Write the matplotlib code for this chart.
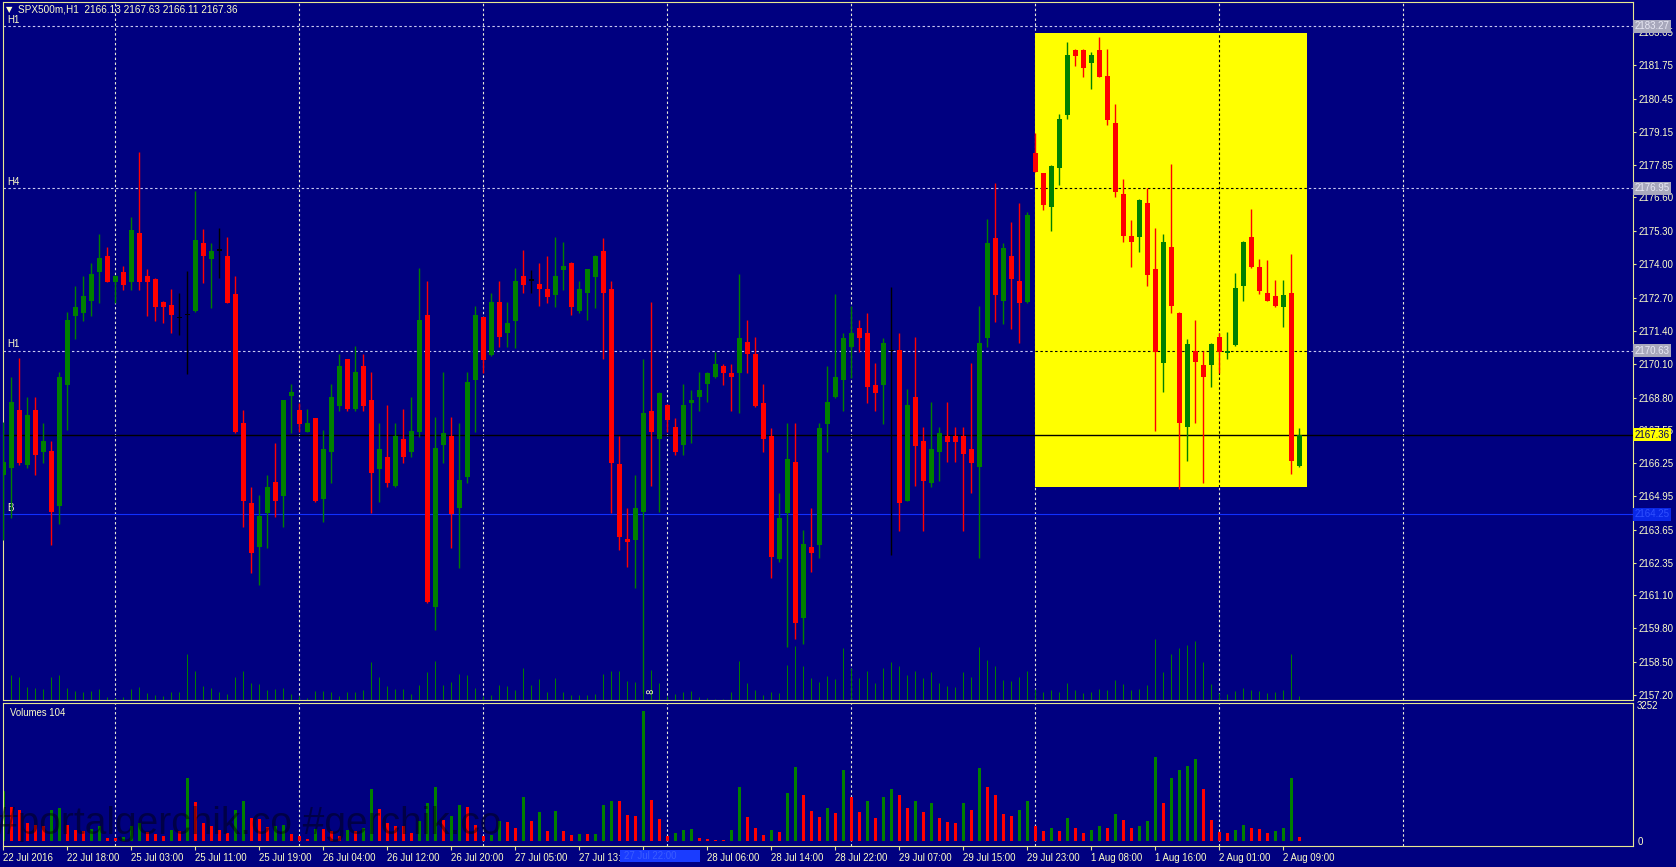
import numpy as np
import matplotlib
matplotlib.use('Agg')
import matplotlib.pyplot as plt
from matplotlib.patches import Rectangle
from matplotlib import transforms

# ---- data: hourly SPX500m candles, 22 Jul 2016 .. 2 Aug 2016 ----
opens = [2165.78, 2166.04, 2168.32, 2166.17, 2168.32, 2166.69, 2166.73, 2164.57, 2169.29, 2171.98,
         2172.11, 2172.58, 2173.71, 2174.32, 2173.32, 2173.71, 2173.32, 2175.20, 2173.54, 2173.41,
         2172.53, 2172.40, 2171.89, 2172.02, 2172.19, 2174.84, 2174.20, 2174.53, 2174.32, 2172.84,
         2167.82, 2164.68, 2162.96, 2164.29, 2165.52, 2164.96, 2168.86, 2168.32, 2167.47, 2167.99,
         2164.86, 2166.69, 2168.47, 2170.29, 2168.34, 2170.03, 2168.71, 2166.00, 2166.47, 2165.35,
         2167.17, 2166.69, 2167.47, 2172.02, 2160.65, 2166.95, 2167.30, 2164.48, 2165.69, 2169.49,
         2171.93, 2170.46, 2172.54, 2171.31, 2171.80, 2173.54, 2173.36, 2173.23, 2173.02, 2172.80,
         2173.77, 2174.06, 2172.19, 2172.89, 2173.51, 2174.53, 2173.02, 2166.21, 2163.27, 2163.25,
         2164.35, 2168.29, 2167.17, 2168.51, 2167.67, 2166.95, 2168.60, 2168.81, 2169.33, 2169.59,
         2170.03, 2169.77, 2169.77, 2170.98, 2170.50, 2168.60, 2167.30, 2162.49, 2164.29, 2166.30,
         2160.20, 2162.99, 2163.05, 2167.77, 2168.81, 2169.49, 2170.79, 2171.50, 2171.33, 2169.29,
         2169.29, 2170.60, 2170.66, 2164.78, 2168.84, 2167.12, 2165.48, 2166.69, 2167.30, 2167.30,
         2167.30, 2166.78, 2166.08, 2171.11, 2175.01, 2172.58, 2174.32, 2173.36, 2172.54, 2178.32,
         2177.54, 2176.22, 2177.74, 2179.82, 2182.35, 2182.35, 2181.83, 2182.35, 2181.34, 2179.52,
         2176.74, 2175.10, 2175.07, 2176.40, 2173.80, 2170.14, 2174.66, 2172.11, 2167.64, 2170.63,
         2170.07, 2170.07, 2171.15, 2170.55, 2170.85, 2173.13, 2175.07, 2173.88, 2172.87, 2172.76,
         2172.32, 2172.87, 2166.13]
highs = [2167.86, 2169.62, 2170.33, 2168.84, 2168.84, 2167.82, 2167.12, 2169.81, 2172.15, 2173.13,
         2173.54, 2174.06, 2175.17, 2174.65, 2173.58, 2173.93, 2175.85, 2178.39, 2173.80, 2173.45,
         2172.57, 2173.02, 2172.87, 2173.75, 2176.87, 2175.36, 2174.84, 2175.40, 2175.05, 2173.54,
         2168.32, 2165.33, 2165.00, 2165.78, 2167.02, 2168.72, 2169.33, 2168.58, 2168.34, 2168.02,
         2167.54, 2169.33, 2170.50, 2170.32, 2170.81, 2170.50, 2169.81, 2167.82, 2168.51, 2167.82,
         2168.34, 2168.84, 2173.84, 2173.36, 2168.03, 2169.81, 2168.03, 2167.82, 2169.81, 2172.35,
         2171.96, 2172.86, 2173.36, 2172.54, 2173.84, 2174.55, 2173.77, 2174.06, 2174.32, 2175.05,
         2174.88, 2174.09, 2173.36, 2173.83, 2174.35, 2175.01, 2173.36, 2167.30, 2164.48, 2165.78,
         2170.29, 2172.54, 2169.02, 2168.54, 2167.99, 2169.33, 2169.10, 2169.81, 2169.80, 2170.59,
         2170.11, 2170.11, 2173.62, 2171.83, 2171.15, 2169.33, 2167.60, 2165.07, 2167.82, 2167.80,
         2163.64, 2164.48, 2167.80, 2170.03, 2172.84, 2171.33, 2172.35, 2171.83, 2172.11, 2170.14,
         2171.11, 2173.12, 2171.33, 2169.12, 2171.15, 2167.64, 2168.64, 2167.64, 2168.64, 2167.64,
         2167.64, 2170.14, 2172.35, 2175.75, 2177.15, 2174.82, 2175.66, 2176.37, 2176.05, 2179.10,
         2177.57, 2177.86, 2179.86, 2182.68, 2182.38, 2182.38, 2182.29, 2182.87, 2182.38, 2180.25,
         2177.31, 2175.72, 2176.53, 2176.96, 2175.40, 2175.18, 2177.91, 2172.14, 2171.07, 2171.83,
         2170.63, 2170.92, 2171.31, 2171.37, 2173.65, 2174.91, 2176.14, 2174.19, 2174.16, 2173.39,
         2173.39, 2174.40, 2167.63]
lows = [2163.25, 2164.09, 2166.17, 2166.04, 2165.78, 2166.26, 2163.05, 2163.87, 2167.54, 2171.07,
        2171.80, 2171.98, 2172.50, 2173.30, 2172.48, 2172.99, 2172.99, 2172.99, 2171.98, 2171.80,
        2171.70, 2171.31, 2171.24, 2169.72, 2172.15, 2173.28, 2172.28, 2173.45, 2172.47, 2167.41,
        2163.77, 2161.95, 2161.50, 2162.92, 2164.13, 2163.77, 2167.41, 2167.47, 2167.44, 2164.74,
        2163.96, 2165.46, 2168.29, 2168.29, 2168.29, 2168.29, 2164.29, 2164.74, 2165.30, 2165.30,
        2166.26, 2166.47, 2167.28, 2160.80, 2159.74, 2166.24, 2162.92, 2162.14, 2165.46, 2167.47,
        2169.75, 2170.43, 2170.79, 2170.79, 2170.72, 2172.86, 2172.86, 2172.37, 2172.50, 2172.32,
        2172.99, 2172.02, 2172.09, 2171.83, 2172.28, 2170.29, 2164.29, 2162.86, 2162.18, 2161.37,
        2157.30, 2165.35, 2164.35, 2167.47, 2166.56, 2166.56, 2167.04, 2168.29, 2168.64, 2169.56,
        2169.29, 2168.29, 2168.19, 2169.77, 2168.44, 2166.69, 2161.75, 2162.40, 2159.09, 2159.40,
        2159.20, 2162.00, 2162.53, 2166.69, 2168.78, 2168.29, 2169.55, 2170.59, 2168.60, 2168.29,
        2167.77, 2162.67, 2163.58, 2164.75, 2165.35, 2163.58, 2165.33, 2165.56, 2166.30, 2166.30,
        2163.58, 2165.07, 2162.53, 2170.76, 2171.76, 2171.67, 2171.46, 2170.94, 2172.50, 2177.58,
        2176.11, 2175.31, 2177.09, 2179.65, 2181.73, 2181.31, 2180.82, 2181.28, 2179.43, 2176.61,
        2174.88, 2173.88, 2174.49, 2173.13, 2167.51, 2169.03, 2172.11, 2165.22, 2166.34, 2167.82,
        2165.48, 2169.23, 2169.77, 2170.29, 2170.82, 2172.58, 2173.85, 2172.84, 2172.55, 2172.32,
        2171.54, 2165.82, 2166.11]
closes = [2166.30, 2168.64, 2166.24, 2168.12, 2166.56, 2167.12, 2164.35, 2169.62, 2171.83, 2172.32,
          2172.74, 2173.62, 2174.23, 2173.32, 2173.54, 2173.19, 2175.34, 2173.32, 2173.32, 2172.32,
          2172.32, 2172.01, 2171.89, 2172.02, 2174.94, 2174.30, 2174.52, 2174.53, 2172.50, 2167.47,
          2164.78, 2162.76, 2164.18, 2165.33, 2164.78, 2168.70, 2169.02, 2167.77, 2167.82, 2164.78,
          2166.78, 2168.81, 2170.03, 2168.34, 2169.80, 2168.47, 2165.87, 2166.78, 2165.48, 2167.30,
          2166.47, 2167.51, 2171.83, 2160.84, 2166.82, 2167.41, 2164.26, 2165.59, 2169.42, 2172.02,
          2170.27, 2172.54, 2171.18, 2171.70, 2173.36, 2173.19, 2173.36, 2173.02, 2172.71, 2173.54,
          2173.93, 2172.32, 2173.02, 2173.80, 2174.32, 2172.89, 2166.26, 2163.38, 2163.18, 2164.48,
          2168.19, 2167.47, 2168.99, 2167.93, 2166.69, 2168.51, 2168.71, 2169.10, 2169.77, 2170.11,
          2169.77, 2169.59, 2171.11, 2170.50, 2168.47, 2167.17, 2162.57, 2164.09, 2166.39, 2160.00,
          2163.09, 2162.76, 2167.60, 2168.64, 2169.59, 2171.11, 2171.33, 2171.11, 2169.20, 2168.99,
          2170.92, 2170.60, 2164.68, 2168.51, 2166.91, 2165.56, 2166.78, 2167.41, 2167.08, 2167.08,
          2166.60, 2166.26, 2170.94, 2174.82, 2172.80, 2174.62, 2173.41, 2172.50, 2175.92, 2177.61,
          2176.31, 2177.83, 2179.65, 2182.16, 2182.12, 2181.64, 2182.16, 2181.31, 2179.62, 2176.83,
          2175.10, 2174.88, 2176.50, 2173.58, 2170.59, 2174.88, 2172.35, 2167.82, 2170.89, 2170.20,
          2169.62, 2170.89, 2170.59, 2170.63, 2173.06, 2174.88, 2173.88, 2172.97, 2172.58, 2172.35,
          2172.80, 2166.34, 2167.36]
volumes = [1192, 815, 740, 423, 385, 362, 740, 800, 385, 272,
           234, 280, 362, 83, 60, 98, 347, 423, 211, 166,
           121, 257, 234, 1501, 935, 438, 370, 257, 181, 740,
           950, 558, 520, 332, 347, 392, 174, 121, 45, 287,
           280, 241, 121, 257, 250, 309, 1252, 762, 438, 362,
           347, 196, 483, 913, 1290, 498, 596, 853, 822, 377,
           121, 135, 483, 460, 302, 1041, 483, 687, 234, 724,
           236, 150, 165, 160, 170, 849, 966, 960, 613, 590,
           3111, 990, 534, 120, 180, 259, 275, 79, 40, 30,
           25, 251, 1296, 563, 322, 149, 251, 220, 1155, 1768,
           1108, 715, 573, 785, 667, 1700, 1050, 700, 950, 550,
           1050, 1250, 1100, 800, 950, 700, 900, 550, 450, 420,
           900, 750, 1750, 1300, 1100, 650, 600, 750, 950, 350,
           250, 300, 250, 550, 300, 200, 260, 350, 320, 650,
           500, 300, 360, 480, 2000, 900, 1500, 1700, 1800, 1950,
           1250, 500, 220, 180, 270, 380, 320, 280, 200, 250,
           300, 1500, 104]

time_labels = ['22 Jul 2016', '22 Jul 18:00', '25 Jul 03:00', '25 Jul 11:00', '25 Jul 19:00',
               '26 Jul 04:00', '26 Jul 12:00', '26 Jul 20:00', '27 Jul 05:00', '27 Jul 13:00',
               '27 Jul 22:00', '28 Jul 06:00', '28 Jul 14:00', '28 Jul 22:00', '29 Jul 07:00',
               '29 Jul 15:00', '29 Jul 23:00', '1 Aug 08:00', '1 Aug 16:00', '2 Aug 01:00',
               '2 Aug 09:00']
price_ticks = [2183.05, 2181.75, 2180.45, 2179.15, 2177.85, 2176.60, 2175.30, 2174.00, 2172.70,
               2171.40, 2170.10, 2168.80, 2167.55, 2166.25, 2164.95, 2163.65, 2162.35, 2161.10,
               2159.80, 2158.50, 2157.20]
level_lines = [2183.27, 2176.95, 2170.63]
level_names = ['H1', 'H4', 'H1']
bid = 2167.36
b_line = 2164.25
box_prices = (2165.33, 2183.03)
box_bars = (128.96, 163.0)
vol_max = 3252

NAVY = '#000080'
TXT = '#FFFFC8'
FRAME = '#E8E890'
UP = '#008000'
DOWN = '#FF0000'
FONT = 'Liberation Sans'

W, H = 1676, 867


def fig_rect(x0, y0, x1, y1):
    return [x0 / W, 1 - y1 / H, (x1 - x0) / W, (y1 - y0) / H]


o = np.array(opens)
h = np.array(highs)
l = np.array(lows)
c = np.array(closes)
v = np.array(volumes)
n = len(o)
x = np.arange(n)

fig = plt.figure(figsize=(W / 100, H / 100), dpi=100, facecolor=NAVY)
ax = fig.add_axes(fig_rect(3, 2, 1633, 699.5))
axv = fig.add_axes(fig_rect(3, 702.5, 1633, 846))

xlim = (-0.04, 203.71)
ylim = (2157.03, 2184.22)
for a in (ax, axv):
    a.set_facecolor(NAVY)
    a.set_xlim(*xlim)
    for s in a.spines.values():
        s.set_color(FRAME)
        s.set_linewidth(0.8)
ax.set_ylim(*ylim)
axv.set_ylim(-120, 3310)

dash = (0, (2.2, 2.2))
grid_bars = np.arange(14, 190, 23)
for a in (ax, axv):
    for g in grid_bars:
        a.axvline(g, color='#E8E8D8', lw=0.8, ls=dash, zorder=1)

for lv, nm in zip(level_lines, level_names):
    ax.axhline(lv, color='#C8C8F0', lw=0.8, ls=dash, zorder=1)
    ax.text(0.5, lv + 0.06, nm, color=TXT, fontsize=7, family=FONT, va='bottom', ha='left')

# yellow box and the lines that show through it
ax.add_patch(Rectangle((box_bars[0], box_prices[0]), box_bars[1] - box_bars[0],
                       box_prices[1] - box_prices[0], facecolor='#FFFF00', edgecolor='none', zorder=2))
for lv in level_lines:
    if box_prices[0] < lv < box_prices[1]:
        ax.plot(box_bars, [lv, lv], color='black', lw=0.8, ls=dash, zorder=2.4)
for g in grid_bars:
    if box_bars[0] + 0.3 < g < box_bars[1]:
        ax.plot([g, g], box_prices, color='black', lw=0.8, ls=dash, zorder=2.4)

ax.axhline(bid, color='black', lw=1, zorder=2.6)
ax.axhline(b_line, color='#1030FF', lw=0.8, zorder=1.5)
ax.text(0.5, b_line + 0.06, 'B', color=TXT, fontsize=7, family=FONT, va='bottom', ha='left')

# volumes drawn faintly at the bottom of the price window
ax.vlines(x, ylim[0], ylim[0] + v * 0.00117, color=UP, lw=0.7, zorder=1.2)

# candles
doji = np.isclose(o, c)
col = np.where(c > o, UP, DOWN).astype(object)
col[doji] = 'black'
ax.vlines(x, l, h, colors=list(col), lw=1, zorder=3)
body_lo = np.minimum(o, c)
body_h = np.maximum(np.abs(c - o), 0.045)
ax.bar(x, body_h, bottom=body_lo, width=0.62, color=list(col), edgecolor='none', zorder=3.2)

# volume panel
vcol = [UP] + [UP if v[i] > v[i - 1] else DOWN for i in range(1, n)]
axv.bar(x, v, width=0.4, color=vcol, edgecolor='none', zorder=2)

# axes ticks
ax.yaxis.tick_right()
ax.set_yticks(price_ticks)
ax.set_yticklabels(['%.2f' % t for t in price_ticks])
ax.tick_params(axis='y', colors=FRAME, labelcolor=TXT, labelsize=7, length=2.5, pad=1.5)
ax.set_xticks([])
for t in ax.get_yticklabels():
    t.set_family(FONT)

axv.yaxis.tick_right()
axv.set_yticks([0, vol_max])
axv.set_yticklabels(['0', str(vol_max)])
axv.tick_params(axis='y', length=0, labelcolor=TXT, labelsize=7, pad=3)
axv.set_xticks(np.arange(0, 161, 8))
axv.set_xticklabels(time_labels, ha='left')
axv.tick_params(axis='x', colors=FRAME, labelcolor=TXT, labelsize=6.9, length=3, pad=2)
for t in axv.get_xticklabels() + axv.get_yticklabels():
    t.set_family(FONT)

# price tags on the right edge
tr = transforms.blended_transform_factory(ax.transAxes, ax.transData)
tag = dict(transform=tr, fontsize=7, family=FONT, va='center', ha='left', zorder=10, clip_on=False)
for lv in level_lines:
    ax.text(1.0008, lv, '%.2f' % lv, color='#E8E8F4',
            bbox=dict(boxstyle='square,pad=0.15', facecolor='#A8A8BC', edgecolor='none'), **tag)
ax.text(1.0008, bid, '%.2f' % bid, color='#000060',
        bbox=dict(boxstyle='square,pad=0.15', facecolor='#FFFF00', edgecolor='none'), **tag)
ax.text(1.0008, b_line, '%.2f' % b_line, color='#3050FF',
        bbox=dict(boxstyle='square,pad=0.15', facecolor='#0A28E8', edgecolor='none'), **tag)

# header and panel titles
ax.text(0.002, 0.989, '\u25BC', transform=ax.transAxes, color=TXT, fontsize=6, va='center', ha='left')
ax.text(0.0095, 0.989, 'SPX500m,H1  %.2f %.2f %.2f %.2f' % (o[-1], h[-1], l[-1], c[-1]),
        transform=ax.transAxes, color=TXT, fontsize=7.2, family=FONT, va='center', ha='left')
axv.text(0.004, 0.93, 'Volumes %d' % v[-1], transform=axv.transAxes, color=TXT, fontsize=6.9,
         family=FONT, va='center', ha='left')

# watermark
axv.text(-0.004, 0.15, '#portalgerchik.co #gerchik.co', transform=axv.transAxes, color='black',
         alpha=0.45, fontsize=28, family=FONT, va='center', ha='left', zorder=5)

# crosshair time tag on the axis
fig.patches.append(Rectangle((620 / W, 1 - 862 / H), 80 / W, 12 / H, transform=fig.transFigure,
                             facecolor='#1A3CFF', edgecolor='none', zorder=20))
fig.text(624 / W, 1 - 856 / H, time_labels[10], color='#3A5CFF', fontsize=6.9, family=FONT,
         va='center', ha='left', zorder=21)
ax.text(81, ylim[0] + 0.3, '8', color=TXT, fontsize=6, rotation=90, ha='center', va='center', zorder=6)

fig.savefig('out.png', dpi=100, facecolor=NAVY)
